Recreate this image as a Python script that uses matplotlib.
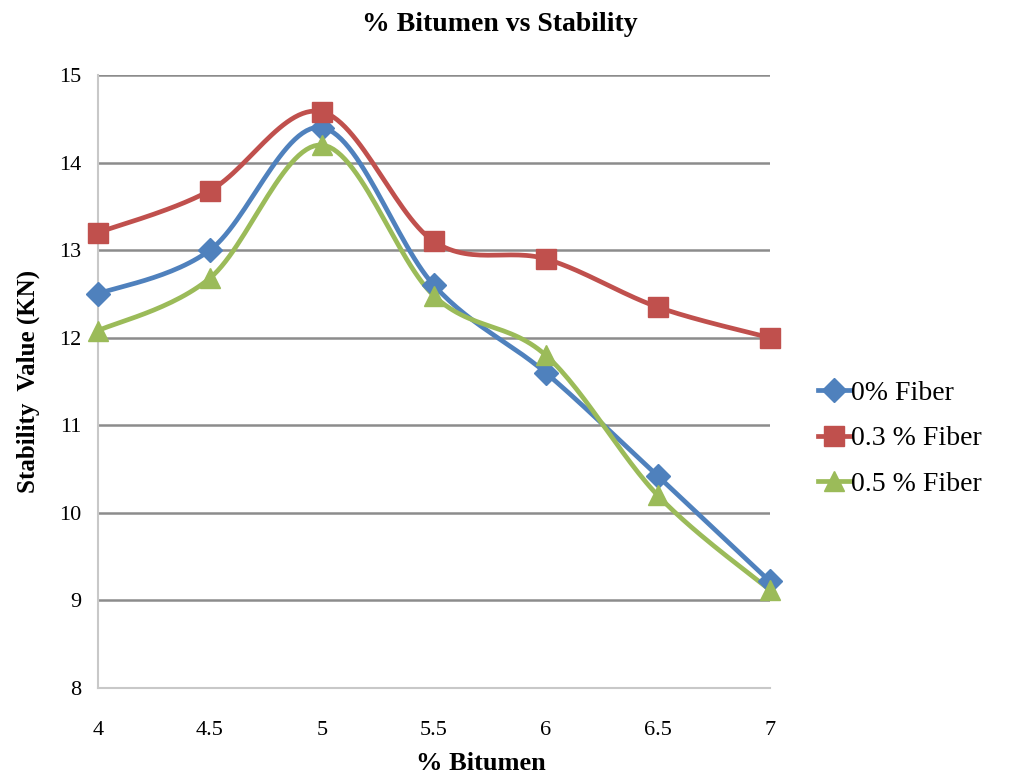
import numpy as np
import matplotlib
matplotlib.use('Agg')
import matplotlib.pyplot as plt
from matplotlib.lines import Line2D

# Data
bitumen = [4, 4.5, 5, 5.5, 6, 6.5, 7]
fiber_0 = [12.5, 13.0, 14.4, 12.6, 11.6, 10.42, 9.22]
fiber_03 = [13.2, 13.68, 14.58, 13.1, 12.9, 12.35, 12.0]
fiber_05 = [12.08, 12.68, 14.2, 12.48, 11.8, 10.2, 9.12]
series_labels = ['0% Fiber', '0.3 % Fiber', '0.5 % Fiber']

plt.rcParams['font.family'] = ['Liberation Serif', 'DejaVu Serif']

X_RANGE = (4, 7)
Y_RANGE = (8, 15)


def smooth(xs, ys, n=30, tension=0.5):
    # Catmull-Rom style curve through the points, done in axis-normalised space
    xs = np.asarray(xs, float)
    ys = np.asarray(ys, float)
    sx = (X_RANGE[1] - X_RANGE[0]) / 672.0
    sy = (Y_RANGE[1] - Y_RANGE[0]) / 613.0
    P = np.column_stack([xs / sx, ys / sy])
    P = np.vstack([P[0], P, P[-1]])
    out = []
    for i in range(1, len(P) - 2):
        p0, p1, p2, p3 = P[i - 1], P[i], P[i + 1], P[i + 2]
        m1 = tension * (p2 - p0)
        m2 = tension * (p3 - p1)
        t = np.linspace(0, 1, n)[:, None]
        h00 = 2 * t**3 - 3 * t**2 + 1
        h10 = t**3 - 2 * t**2 + t
        h01 = -2 * t**3 + 3 * t**2
        h11 = t**3 - t**2
        seg = h00 * p1 + h10 * m1 + h01 * p2 + h11 * m2
        out.append(seg if i == 1 else seg[1:])
    out = np.vstack(out)
    return out[:, 0] * sx, out[:, 1] * sy


fig = plt.figure(figsize=(10.1, 7.78), dpi=100)
ax = fig.add_axes([0.097, 0.1157, 0.665, 0.7879])

styles = [
    (fiber_0, '#4F81BD', 'D', 12),
    (fiber_03, '#C0504D', 's', 14),
    (fiber_05, '#9BBB59', '^', 14),
]
handles = []
for (vals, col, mk, ms), lab in zip(styles, series_labels):
    sx, sy = smooth(bitumen, vals)
    ax.plot(sx, sy, color=col, lw=3.4, solid_capstyle='round', zorder=3,
            clip_on=False)
    ax.plot(bitumen, vals, linestyle='none', marker=mk, markersize=ms,
            color=col, zorder=4, clip_on=False)
    handles.append(Line2D([], [], color=col, lw=3.4, marker=mk,
                          markersize=ms, label=lab))

ax.set_xlim(*X_RANGE)
ax.set_ylim(*Y_RANGE)
ax.set_xticks(bitumen)
ax.set_xticklabels(['4', '4.5', '5', '5.5', '6', '6.5', '7'])
ax.set_yticks(range(8, 16))
ax.tick_params(length=0, labelsize=16, colors='black')
ax.tick_params(axis='x', pad=24)
ax.tick_params(axis='y', pad=12)

ax.yaxis.grid(True, color='#8c8c8c', lw=1.8)
ax.set_axisbelow(True)
for side in ['top', 'right']:
    ax.spines[side].set_visible(False)
for side in ['left', 'bottom']:
    ax.spines[side].set_color('#c8c8c8')
    ax.spines[side].set_linewidth(1.5)

fig.suptitle('% Bitumen vs Stability', x=0.495, y=0.985, fontsize=20,
             fontweight='bold')
ax.set_xlabel('% Bitumen', fontsize=19, fontweight='bold')
ax.xaxis.set_label_coords(0.57, -0.105)
ax.set_ylabel('Stability  Value (KN)', fontsize=18, fontweight='bold', labelpad=14)

ax.legend(handles=handles, loc='upper left', bbox_to_anchor=(1.055, 0.52),
          frameon=False, fontsize=20, handlelength=1.2, handletextpad=0.0,
          labelspacing=0.72, borderaxespad=0)

fig.savefig('out.png', dpi=100)
